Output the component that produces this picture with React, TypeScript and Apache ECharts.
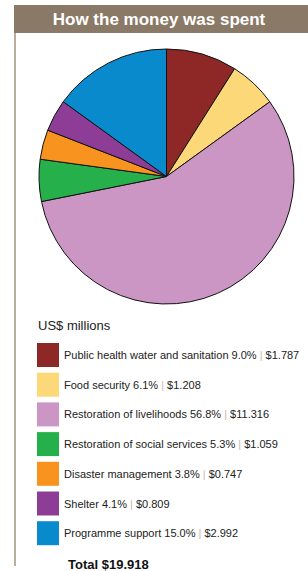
import React, { useEffect, useRef } from "react";
import * as echarts from "echarts";

const categories = [
  "Public health water and sanitation",
  "Food security",
  "Restoration of livelihoods",
  "Restoration of social services",
  "Disaster management",
  "Shelter",
  "Programme support",
];
const values = [1.787, 1.208, 11.316, 1.059, 0.747, 0.809, 2.992];
const percents = ["9.0", "6.1", "56.8", "5.3", "3.8", "4.1", "15.0"];
const colors = ["#8e2826", "#fdd878", "#cb95c4", "#25b04b", "#f7931e", "#8e3d96", "#098acc"];
const title = "How the money was spent";
const unitLabel = "US$ millions";
const totalLabel = "Total $19.918";

export default function App() {
  const ref = useRef<HTMLDivElement>(null);
  useEffect(() => {
    document.body.style.margin = "0";
    const chart = echarts.init(ref.current!, null, { renderer: "svg" });
    const font = "'Liberation Sans', Arial, sans-serif";
    chart.setOption({
      animation: false,
      color: colors,
      graphic: [
        { type: "rect", shape: { x: 14, y: 5, width: 294, height: 28 }, style: { fill: "#8a7967" } },
        {
          type: "text",
          x: 159,
          y: 19,
          style: {
            text: title,
            fill: "#ffffff",
            font: `bold 17px ${font}`,
            textAlign: "center",
            textVerticalAlign: "middle",
          },
        },
        { type: "line", shape: { x1: 15, y1: 33, x2: 15, y2: 566 }, style: { stroke: "#b8ad9f", lineWidth: 2 } },
        {
          type: "text",
          x: 38,
          y: 325,
          style: { text: unitLabel, fill: "#222", font: `13px ${font}`, textVerticalAlign: "middle" },
        },
        {
          type: "text",
          x: 68,
          y: 564,
          style: { text: totalLabel, fill: "#111", font: `bold 13px ${font}`, textVerticalAlign: "middle" },
        },
      ],
      legend: {
        orient: "vertical",
        left: 37,
        top: 343,
        padding: 0,
        itemWidth: 22,
        itemHeight: 24,
        itemGap: 5.7,
        icon: "rect",
        itemStyle: { borderWidth: 0 },
        selectedMode: false,
        data: categories,
        formatter: (name: string) => {
          const i = categories.indexOf(name);
          return `{t|${name} ${percents[i]}% }{s||}{t| $${values[i].toFixed(3)}}`;
        },
        textStyle: {
          fontFamily: font,
          fontSize: 11,
          color: "#222",
          rich: {
            t: { fontFamily: font, fontSize: 11, color: "#222" },
            s: { fontFamily: font, fontSize: 11, color: "#c9b9a9" },
          },
        },
      },
      series: [
        {
          type: "pie",
          center: [166.5, 176.5],
          radius: 127.5,
          startAngle: 90,
          clockwise: true,
          label: { show: false },
          labelLine: { show: false },
          emphasis: { disabled: true },
          itemStyle: { borderColor: "#111", borderWidth: 1 },
          data: categories.map((c, i) => ({ name: c, value: values[i] })),
        },
      ],
    });
    return () => chart.dispose();
  }, []);
  return <div ref={ref} style={{ width: 308, height: 571 }} />;
}
